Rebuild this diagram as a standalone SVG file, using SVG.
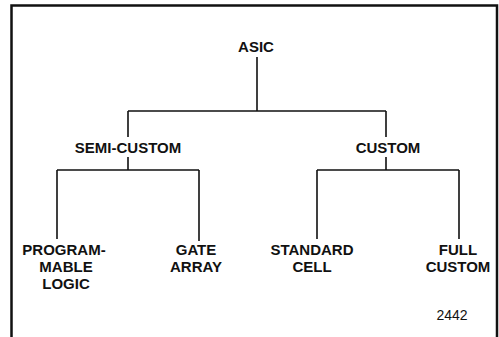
<svg xmlns="http://www.w3.org/2000/svg" width="499" height="337" viewBox="0 0 499 337">
<style>
.t{font-family:"Liberation Sans",Arial,Helvetica,sans-serif;font-weight:bold;font-size:15px;text-anchor:middle;fill:#111}
.n{font-family:"Liberation Sans",Arial,Helvetica,sans-serif;font-size:14px;text-anchor:middle;fill:#111}
.c{fill:none;stroke:#111;stroke-width:1.6}
.f{fill:none;stroke:#111;stroke-width:2.5}
</style>
<rect width="499" height="337" fill="#fff"/>
<path class="f" d="M11.5,337 V5.5 H497 V337"/>
<g id="connectors">
<path class="c" d="M257,57 V111 M128,111 H386 M128,111 V137 M386,111 V137"/>
<path class="c" d="M128,157 V170 M57,170 H199 M57,170 V239 M199,170 V241"/>
<path class="c" d="M386,157 V170 M317,170 H459 M317,170 V239 M459,170 V239"/>
</g>
<g id="asic"><text class="t" x="256" y="52">ASIC</text></g>
<g id="semi-custom"><text class="t" x="128" y="153">SEMI-CUSTOM</text></g>
<g id="custom"><text class="t" x="388" y="153">CUSTOM</text></g>
<g id="programmable-logic"><text class="t" x="64" y="255">PROGRAM-</text><text class="t" x="66" y="272">MABLE</text><text class="t" x="66" y="289">LOGIC</text></g>
<g id="gate-array"><text class="t" x="196" y="255">GATE</text><text class="t" x="196" y="272">ARRAY</text></g>
<g id="standard-cell"><text class="t" x="312" y="255">STANDARD</text><text class="t" x="312" y="272">CELL</text></g>
<g id="full-custom"><text class="t" x="458" y="255">FULL</text><text class="t" x="458" y="272">CUSTOM</text></g>
<g id="label-2442"><text class="n" x="452" y="320">2442</text></g>
</svg>
